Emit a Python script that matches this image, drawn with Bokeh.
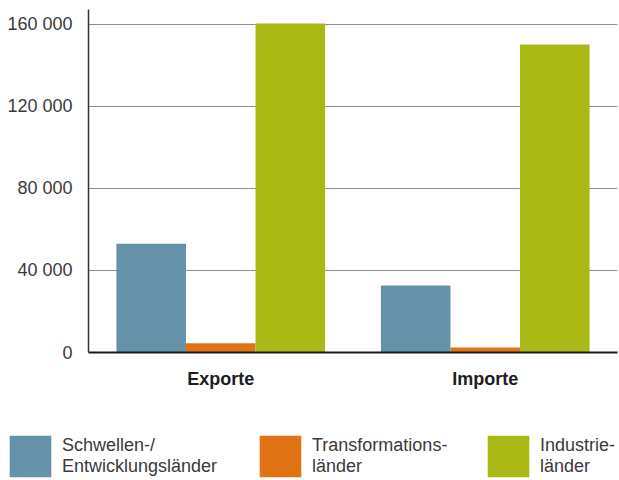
from bokeh.plotting import figure
from bokeh.models import (FactorRange, Range1d, FixedTicker, Legend, LegendItem,
                          ColumnDataSource)
from bokeh.transform import dodge
from bokeh.embed import file_html
from bokeh.resources import INLINE

# ---- data ----
categories = ["Exporte", "Importe"]
series_labels = ["Schwellen-/\nEntwicklungsländer", "Transformations-\nländer", "Industrie-\nländer"]
schwellen = [53000, 32700]
transformation = [4500, 2400]
industrie = [160500, 150200]
colors = ["#6592A8", "#E07415", "#AAB915"]
y_ticks = [0, 40000, 80000, 120000, 160000]
y_tick_labels = ["0", "40\u00a0000", "80\u00a0000", "120\u00a0000", "160\u00a0000"]

FONT = "Liberation Sans"

src = ColumnDataSource(dict(cat=categories, s=schwellen, t=transformation, i=industrie))
series_cols = ["s", "t", "i"]
W = 0.263
offsets = [-W, 0.0, W]

p = figure(x_range=FactorRange(*categories, range_padding=0),
           y_range=Range1d(0, 167300),
           width=619, height=400, output_backend="svg", toolbar_location=None,
           min_border_left=88, min_border_right=2, min_border_top=9, min_border_bottom=48)
p.outline_line_color = None

for col, off, c in zip(series_cols, offsets, colors):
    p.vbar(x=dodge("cat", off, range=p.x_range), top=col, width=W, source=src,
           fill_color=c, line_color=None)

# y axis
p.yaxis.ticker = FixedTicker(ticks=y_ticks)
p.yaxis.major_label_overrides = {t: l for t, l in zip(y_ticks, y_tick_labels)}
p.yaxis.major_tick_line_color = None
p.yaxis.minor_tick_line_color = None
p.yaxis.major_tick_out = 0
p.yaxis.major_tick_in = 0
p.yaxis.axis_line_color = "#333333"
p.yaxis.axis_line_width = 1.5
p.yaxis.major_label_text_font = FONT
p.yaxis.major_label_text_font_size = "18px"
p.yaxis.major_label_text_color = "#3a3a3a"
p.yaxis.major_label_standoff = 16

# x axis
p.xaxis.major_tick_line_color = None
p.xaxis.minor_tick_line_color = None
p.xaxis.major_tick_out = 0
p.xaxis.major_tick_in = 0
p.xaxis.axis_line_color = "#1a1a1a"
p.xaxis.axis_line_width = 2
p.xaxis.major_label_text_font = FONT
p.xaxis.major_label_text_font_size = "18px"
p.xaxis.major_label_text_font_style = "bold"
p.xaxis.major_label_text_color = "#1e1e1e"
p.xaxis.major_label_standoff = 16

# grid
p.xgrid.grid_line_color = None
p.ygrid.grid_line_color = "#8f8f8f"
p.ygrid.grid_line_width = 1.2

# ---- legend panel (separate root; series glyphs with zero size, used only for legend keys) ----
lg = figure(width=619, height=80, output_backend="svg", toolbar_location=None,
            x_range=FactorRange(*categories, range_padding=0), y_range=Range1d(-2, -1),
            min_border_left=0, min_border_right=0, min_border_top=0, min_border_bottom=0)
lg.axis.visible = False
lg.grid.visible = False
lg.outline_line_color = None

legend_x = [4, 254, 482]
for col, off, c, lab, lx in zip(series_cols, offsets, colors, series_labels, legend_x):
    r = lg.vbar(x=dodge("cat", off, range=lg.x_range), top=col, bottom=col, width=0,
                source=src, fill_color=c, line_color=None)
    leg = Legend(
        items=[LegendItem(label=lab, renderers=[r])],
        orientation="horizontal", location=(lx, -2),
        glyph_width=52, glyph_height=52, label_standoff=6, spacing=0,
        padding=0, margin=0, border_line_color=None, background_fill_alpha=0,
        label_text_font=FONT, label_text_font_size="18px", label_text_color="#3a3a3a",
        label_text_line_height=1.3,
    )
    lg.add_layout(leg)

open("out.html", "w").write(file_html([p, lg], INLINE))
